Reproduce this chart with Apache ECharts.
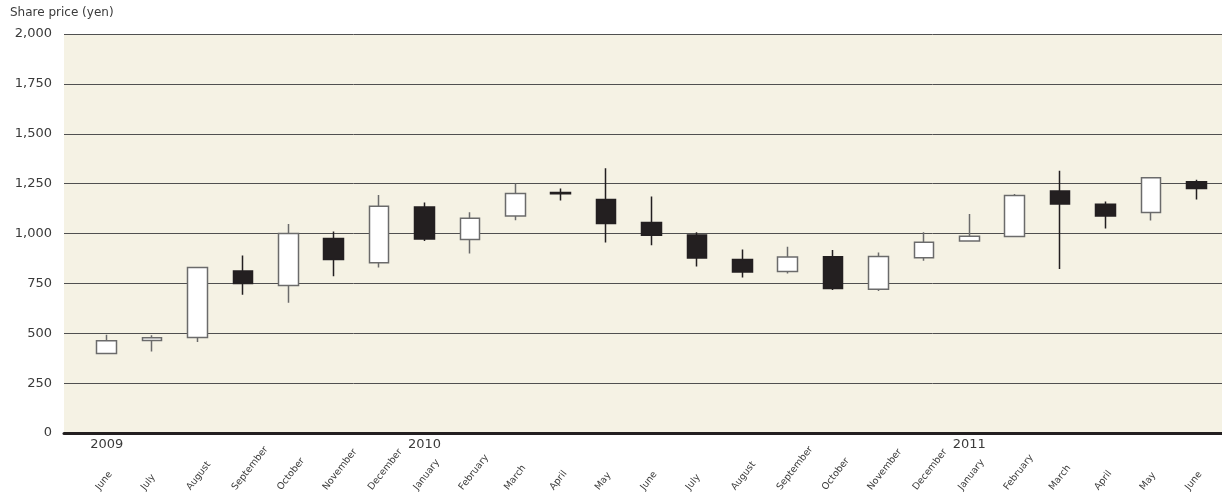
<!DOCTYPE html>
<html>
<head>
<meta charset="utf-8">
<title>Share price (yen)</title>
<script src="https://cdn.jsdelivr.net/npm/echarts@6/dist/echarts.min.js"></script>
<style>
  html, body { margin: 0; padding: 0; background: #ffffff; }
  #chart { width: 1222px; height: 495px; }
</style>
</head>
<body>
<div id="chart"></div>
<script>
// Monthly candles, June 2009 – June 2011
const months = ['June', 'July', 'August', 'September', 'October', 'November', 'December',
  'January', 'February', 'March', 'April', 'May', 'June', 'July', 'August', 'September',
  'October', 'November', 'December', 'January', 'February', 'March', 'April', 'May', 'June'];
const years = ['2009', '', '', '', '', '', '', '2010', '', '', '', '', '', '', '', '', '', '', '',
  '2011', '', '', '', '', ''];

const openPrice  = [399, 464, 479, 812, 739, 975, 854, 1133, 970, 1088, 1205, 1171, 1055,
  993, 870, 809, 884, 720, 879, 963, 985, 1213, 1146, 1105, 1259];
const closePrice = [462, 477, 830, 749, 1000, 870, 1136, 973, 1076, 1200, 1199, 1050, 991,
  877, 807, 882, 724, 885, 956, 986, 1191, 1148, 1088, 1279, 1225];
const lowPrice   = [396, 408, 456, 693, 653, 786, 829, 963, 900, 1066, 1166, 955, 941,
  835, 779, 799, 717, 712, 864, 961, 983, 822, 1025, 1065, 1171];
const highPrice  = [492, 490, 830, 890, 1048, 1010, 1193, 1156, 1106, 1251, 1226, 1327, 1186,
  1006, 920, 933, 917, 905, 1006, 1098, 1198, 1314, 1160, 1279, 1269];

const yTicks = { min: 0, max: 2000, step: 250 };

const candles = months.map((m, i) => [openPrice[i], closePrice[i], lowPrice[i], highPrice[i]]);

const textColor = '#3a3a3a';
const font = 'DejaVu Sans';
const hiddenAxis = {
  axisLine: { show: false }, axisTick: { show: false }, splitLine: { show: false }
};

const chart = echarts.init(document.getElementById('chart'), null, { renderer: 'canvas' });
chart.setOption({
  animation: false,
  title: {
    text: 'Share price (yen)',
    left: 10,
    top: 7,
    padding: 0,
    textStyle: { fontSize: 12, fontWeight: 'normal', color: textColor, fontFamily: font }
  },
  grid: [
    // plot panel: background, gridlines and value labels
    { left: 64, right: 0, top: 34, bottom: 62, show: true, backgroundColor: '#f5f2e4', borderWidth: 0 },
    // candle band area
    { left: 84, right: 3, top: 34, bottom: 62 },
    // month label band, nudged left so the slanted names start under each candle
    { left: 75, right: 12, top: 34, bottom: 62 }
  ],
  xAxis: [
    {
      gridIndex: 0, type: 'value', min: 0, max: 1,
      axisLine: { show: true, lineStyle: { color: '#231f20', width: 3 } },
      axisTick: { show: false }, axisLabel: { show: false }, splitLine: { show: false }
    },
    Object.assign({
      gridIndex: 1, type: 'category', data: months, position: 'bottom',
      axisLabel: { show: false }
    }, hiddenAxis),
    Object.assign({
      gridIndex: 1, type: 'category', data: years, position: 'bottom', offset: 0,
      axisLabel: { interval: 0, margin: 5, fontSize: 13, fontFamily: font, color: textColor }
    }, hiddenAxis),
    Object.assign({
      gridIndex: 2, type: 'category', data: months, position: 'bottom', offset: 0,
      axisLabel: {
        interval: 0, rotate: 52, align: 'left', verticalAlign: 'middle', margin: 56,
        fontSize: 9.5, fontFamily: font, color: textColor
      }
    }, hiddenAxis)
  ],
  yAxis: [
    {
      gridIndex: 0, type: 'value', min: yTicks.min, max: yTicks.max, interval: yTicks.step,
      axisLine: { show: false }, axisTick: { show: false },
      axisLabel: {
        margin: 12, fontSize: 13, fontFamily: font, color: textColor,
        formatter: v => v.toLocaleString('en-US')
      },
      splitLine: { show: true, lineStyle: { color: '#505050', width: 1 } }
    },
    { gridIndex: 1, type: 'value', min: yTicks.min, max: yTicks.max, show: false, splitLine: { show: false } },
    { gridIndex: 2, type: 'value', min: yTicks.min, max: yTicks.max, show: false, splitLine: { show: false } }
  ],
  series: [{
    type: 'candlestick',
    xAxisIndex: 1,
    yAxisIndex: 1,
    barWidth: 20,
    data: candles,
    itemStyle: {
      color: '#ffffff',
      color0: '#231f20',
      borderColor: '#6b6b6b',
      borderColor0: '#231f20',
      borderWidth: 1.5
    }
  }]
});
</script>
</body>
</html>
